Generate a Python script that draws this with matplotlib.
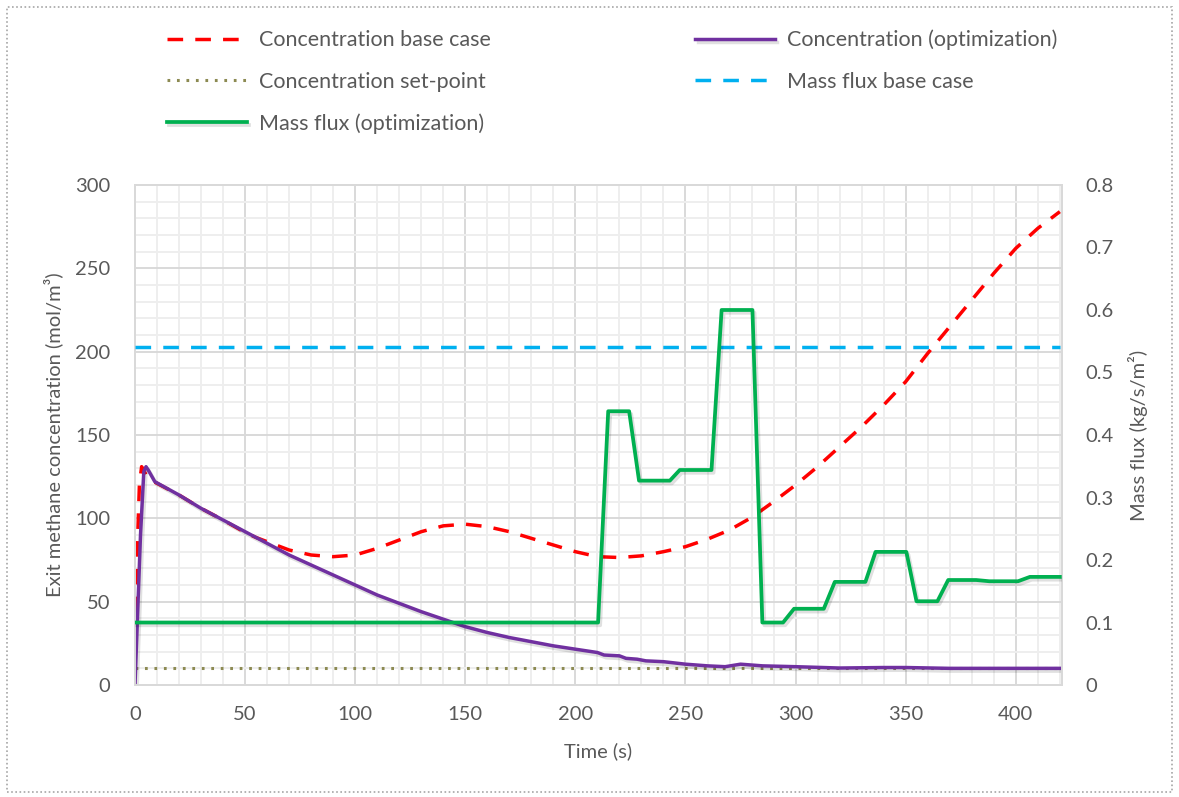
import matplotlib.pyplot as plt
import matplotlib.patheffects as pe
from matplotlib.patches import Rectangle
from matplotlib.ticker import MultipleLocator, FuncFormatter

plt.rcParams["font.family"] = ["Lato", "DejaVu Sans"]
TEXT = "#595959"

# Concentration, base case (mol/m3)
T_BASE = [0, 1, 2, 3, 4, 5, 7, 10, 20, 30, 40, 50, 55, 60, 70, 80, 90, 100, 110, 120,
          130, 140, 150, 160, 170, 180, 190, 200, 210, 220, 230, 240, 250, 260, 270,
          280, 290, 300, 310, 320, 330, 340, 350, 360, 370, 380, 390, 400, 410, 420]
C_BASE = [27, 80, 120, 131, 129, 126, 123, 121, 114, 106, 99, 91.5, 88.5, 86, 81, 78,
          77, 78, 82, 87, 92, 95.5, 96.5, 95, 92, 88, 84, 80, 77, 76.5, 77.5, 80, 83,
          87.5, 93, 100.5, 110, 120, 131, 143, 155, 168, 182, 199, 215, 231, 247, 262,
          274, 284]

# Concentration with optimised mass flux (mol/m3)
T_OPT = [0, 2.5, 4, 5, 6, 9, 20, 30, 40, 50, 60, 70, 80, 90, 100, 110, 120, 130, 140,
         150, 160, 170, 180, 190, 200, 210, 213, 220, 223, 228, 232, 240, 250, 260,
         268, 275, 285, 300, 320, 340, 350, 370, 420]
C_OPT = [0, 90, 128, 131, 129, 122, 114, 106, 99, 92, 85, 78, 72, 66, 60, 54, 49, 44,
         39.5, 35, 31.5, 28.5, 26, 23.5, 21.5, 19.5, 18, 17.5, 16, 15.5, 14.5, 14, 12.5,
         11.5, 11, 12.5, 11.5, 11, 10.2, 10.5, 10.5, 10, 10]

T_SET = [0, 420]
C_SET = [10, 10]

# Mass flux (kg/s/m2)
T_FLUX_BASE = [0, 420]
FLUX_BASE = [0.54, 0.54]

T_FLUX = [0, 210.3, 214.9, 224.4, 228.9, 242.9, 247.4, 261.8, 266.4, 280.4, 284.9,
          294.3, 299.3, 312.8, 317.8, 331.7, 336.3, 350.3, 354.9, 364.4, 369.3, 382,
          388, 401, 406.4, 420]
FLUX = [0.1, 0.1, 0.438, 0.438, 0.327, 0.327, 0.344, 0.344, 0.6, 0.6, 0.1, 0.1, 0.122,
        0.122, 0.165, 0.165, 0.213, 0.213, 0.134, 0.134, 0.168, 0.168, 0.166, 0.166,
        0.173, 0.173]

fig = plt.figure(figsize=(11.79, 7.97), dpi=100)
ax = fig.add_axes([0.1145, 0.1405, 0.7863, 0.6274])
ax2 = ax.twinx()

shadow = [pe.SimpleLineShadow(offset=(1.5, -2), alpha=0.12, shadow_color="k"), pe.Normal()]

l_base, = ax.plot(T_BASE, C_BASE, color="#ff0000", lw=2.5, dashes=(4.5, 3.5),
                  label="Concentration base case", zorder=3)
l_opt, = ax.plot(T_OPT, C_OPT, color="#7030a0", lw=2.5, label="Concentration (optimization)",
                 zorder=4, path_effects=shadow)
l_set, = ax.plot(T_SET, C_SET, color="#8c8a52", lw=2.2, dashes=(0.9, 2.2),
                 label="Concentration set-point", zorder=3)
l_fb, = ax2.plot(T_FLUX_BASE, FLUX_BASE, color="#00b0f0", lw=2.5, dashes=(4.5, 3.5),
                 label="Mass flux base case", zorder=3)
l_fo, = ax2.plot(T_FLUX, FLUX, color="#00b050", lw=2.7, label="Mass flux (optimization)",
                 zorder=4, path_effects=shadow)

ax.set_xlim(0, 421)
ax.set_ylim(0, 300)
ax2.set_ylim(0, 0.8)
ax.xaxis.set_major_locator(MultipleLocator(50))
ax.xaxis.set_minor_locator(MultipleLocator(10))
ax.yaxis.set_major_locator(MultipleLocator(50))
ax.yaxis.set_minor_locator(MultipleLocator(10))
ax2.yaxis.set_major_locator(MultipleLocator(0.1))
ax2.yaxis.set_major_formatter(FuncFormatter(lambda v, p: "0" if abs(v) < 1e-9 else f"{v:.1f}"))

ax.grid(which="major", color="#d9d9d9", lw=1.4)
ax.grid(which="minor", color="#eeeeee", lw=1.4)
ax.set_axisbelow(True)

for a in (ax, ax2):
    a.tick_params(which="both", length=0, labelsize=14.5, labelcolor=TEXT)
    for s in a.spines.values():
        s.set_color("#d9d9d9")
        s.set_linewidth(1.4)
ax.tick_params(axis="y", pad=18)
ax.tick_params(axis="x", pad=15)
ax2.tick_params(axis="y", pad=16.5)

ax.set_xlabel("Time (s)", fontsize=14.5, color=TEXT, labelpad=14)
ax.set_ylabel("Exit methane concentration (mol/m³)", fontsize=14.5, color=TEXT, labelpad=8)
ax2.set_ylabel("Mass flux (kg/s/m²)", fontsize=14.5, color=TEXT, labelpad=10.5)

handles = [l_base, l_set, l_fo, l_opt, l_fb]
fig.legend(handles=handles, labels=[h.get_label() for h in handles], ncol=2,
           loc="upper left", bbox_to_anchor=(0.1255, 0.987), frameon=False,
           fontsize=15.5, labelcolor=TEXT, handlelength=3.7, handletextpad=0.56,
           columnspacing=9.5, labelspacing=1.0)

# dotted frame round the whole figure
fig.patches.append(Rectangle((0.006, 0.006), 0.988, 0.985, transform=fig.transFigure,
                             fill=False, edgecolor="#a6a6a6", lw=1.2, ls=(0, (1, 1.5))))

fig.savefig("out.png", dpi=100)
